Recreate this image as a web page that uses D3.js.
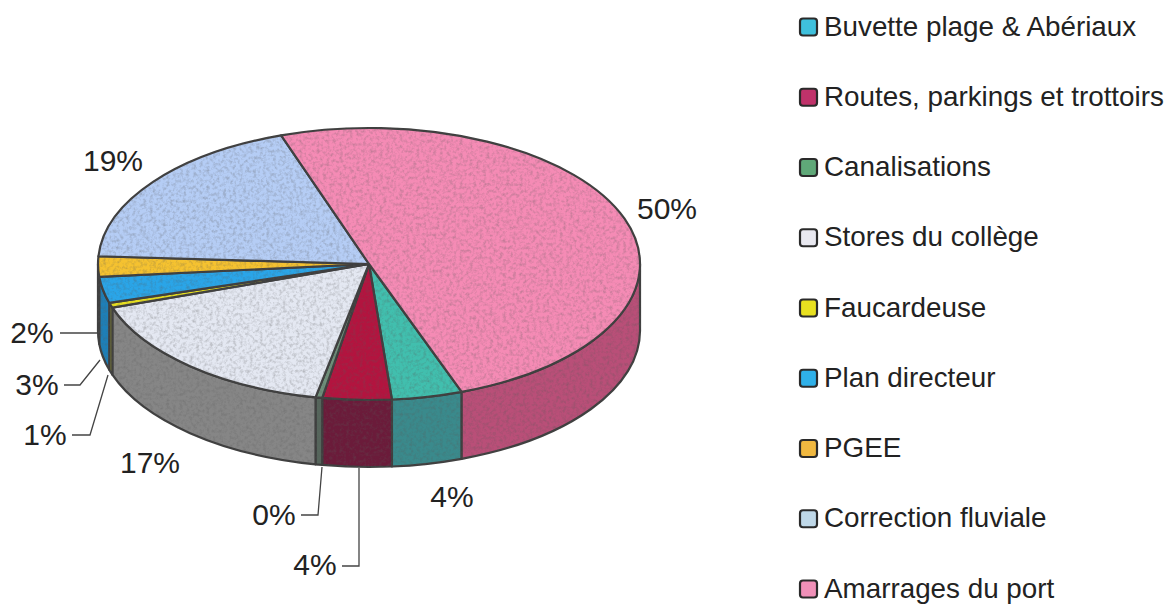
<!DOCTYPE html>
<html>
<head>
<meta charset="utf-8">
<script src="https://cdn.jsdelivr.net/npm/d3@7"></script>
<style>
  html, body { margin: 0; background: #fff; }
  text { font-family: "Liberation Sans", Arial, sans-serif; fill: #222; }
</style>
</head>
<body>
<svg id="chart" width="1168" height="604">
  <defs>
    <!-- scanned paper look: faint grain plus a little softness -->
    <filter id="scan" x="-2%" y="-2%" width="104%" height="104%" color-interpolation-filters="sRGB">
      <feGaussianBlur in="SourceGraphic" stdDeviation="0.5" result="soft"/>
      <feTurbulence type="fractalNoise" baseFrequency="0.3" numOctaves="3" seed="4" result="grain"/>
      <feColorMatrix in="grain" type="matrix" values="0 0 0 0 0.35  0 0 0 0 0.35  0 0 0 0 0.35  0.7 0 0 0 -0.3" result="specks"/>
      <feComposite in="specks" in2="soft" operator="in" result="clipped"/>
      <feMerge>
        <feMergeNode in="soft"/>
        <feMergeNode in="clipped"/>
      </feMerge>
    </filter>
  </defs>
</svg>
<script>
const categories = ["Buvette plage & Abériaux", "Routes, parkings et trottoirs", "Canalisations", "Stores du collège", "Faucardeuse", "Plan directeur", "PGEE", "Correction fluviale", "Amarrages du port"];
const shares = [4.2, 4.1, 0.4, 16.6, 0.6, 3.1, 2.4, 18.8, 49.6];
const topColors = ["#41bfae", "#b3143f", "#6f8f7a", "#e4e8f2", "#e8e020", "#2aa5e8", "#f5c230", "#b5cdf5", "#f58bb5"];
const wallColors = ["#3a8a8c", "#6b1b3a", "#56665c", "#868686", "#8a8a30", "#1e7fb8", "#77776a", "#7f8fa8", "#b94f78"];
const legendColors = ["#3fc0dc", "#c0326a", "#5fa878", "#e8e8f0", "#e8e020", "#2fb0e8", "#f0b840", "#bfd8e8", "#f090b8"];

// where the percent labels sit, and the leader elbows for the small slices
const labelSpots = [[452, 496], [315, 564], [274, 514], [150, 462], [45, 434], [37, 384], [32, 332], [113, 160], [667, 208]];
const leaders = {
  1: [[342, 566], [359, 566], [359, 468]],
  2: [[301, 515], [318, 515], [322, 467]],
  4: [[72, 435], [90, 435], [108, 375]],
  5: [[64, 385], [80, 385], [100, 360]],
  6: [[60, 333], [97, 333]]
};

const cx = 369, cy = 264, rx = 271, ry = 136, depth = 67;
const k = ry / rx;
const deg = Math.PI / 180;

const svg = d3.select("#chart");

const pie = d3.pie().sort(null).startAngle(160 * deg).endAngle(520 * deg);
const slices = pie(shares);
const arc = d3.arc().innerRadius(0).outerRadius(rx);

const pieG = svg.append("g")
  .attr("filter", "url(#scan)")
  .append("g")
  .attr("transform", `translate(${cx},${cy}) scale(1,${k})`);

// front-facing part of a slice rim, one or no piece per slice
const frontPart = (s) => {
  for (const [lo, hi] of [[90, 270], [450, 630]]) {
    const a0 = Math.max(s.startAngle, lo * deg);
    const a1 = Math.min(s.endAngle, hi * deg);
    if (a1 > a0) return [a0, a1];
  }
  return null;
};

const wallPath = ([a0, a1]) => {
  const d = depth / k;
  const p = d3.path();
  const q = -Math.PI / 2;
  p.arc(0, 0, rx, a0 + q, a1 + q);
  p.lineTo(rx * Math.cos(a1 + q), rx * Math.sin(a1 + q) + d);
  p.arc(0, d, rx, a1 + q, a0 + q, true);
  p.closePath();
  return p.toString();
};

pieG.selectAll("path.wall")
  .data(slices.filter((s) => frontPart(s)))
  .enter()
  .append("path")
  .attr("class", "wall")
  .attr("d", (s) => wallPath(frontPart(s)))
  .attr("fill", (s) => wallColors[s.index])
  .attr("stroke", "#3f3f3f")
  .attr("stroke-width", 2.2)
  .attr("stroke-linejoin", "round")
  .attr("vector-effect", "non-scaling-stroke");

pieG.selectAll("path.top")
  .data(slices)
  .enter()
  .append("path")
  .attr("class", "top")
  .attr("d", arc)
  .attr("fill", (s) => topColors[s.index])
  .attr("stroke", "#3f3f3f")
  .attr("stroke-width", 2.2)
  .attr("stroke-linejoin", "round")
  .attr("vector-effect", "non-scaling-stroke");

// leader lines
const line = d3.line();
svg.selectAll("path.leader")
  .data(Object.values(leaders))
  .enter()
  .append("path")
  .attr("class", "leader")
  .attr("d", line)
  .attr("fill", "none")
  .attr("stroke", "#444")
  .attr("stroke-width", 1.3);

svg.selectAll("text.pct")
  .data(shares)
  .enter()
  .append("text")
  .attr("class", "pct")
  .attr("x", (d, i) => labelSpots[i][0])
  .attr("y", (d, i) => labelSpots[i][1])
  .attr("text-anchor", "middle")
  .attr("dominant-baseline", "central")
  .attr("font-size", 30)
  .text((d) => `${Math.round(d)}%`);

// legend
const legendY = d3.scalePoint().domain(categories).range([27, 589]);
const legend = svg.selectAll("g.item")
  .data(categories)
  .enter()
  .append("g")
  .attr("class", "item")
  .attr("transform", (d) => `translate(799,${legendY(d)})`);

legend.append("rect")
  .attr("x", 1)
  .attr("y", -8.5)
  .attr("width", 17)
  .attr("height", 17)
  .attr("rx", 3)
  .attr("fill", (d, i) => legendColors[i])
  .attr("stroke", "#2a2a2a")
  .attr("stroke-width", 2.2);

legend.append("text")
  .attr("x", 25)
  .attr("y", -1)
  .attr("dominant-baseline", "central")
  .attr("font-size", 27.8)
  .text((d) => d);
</script>
</body>
</html>
